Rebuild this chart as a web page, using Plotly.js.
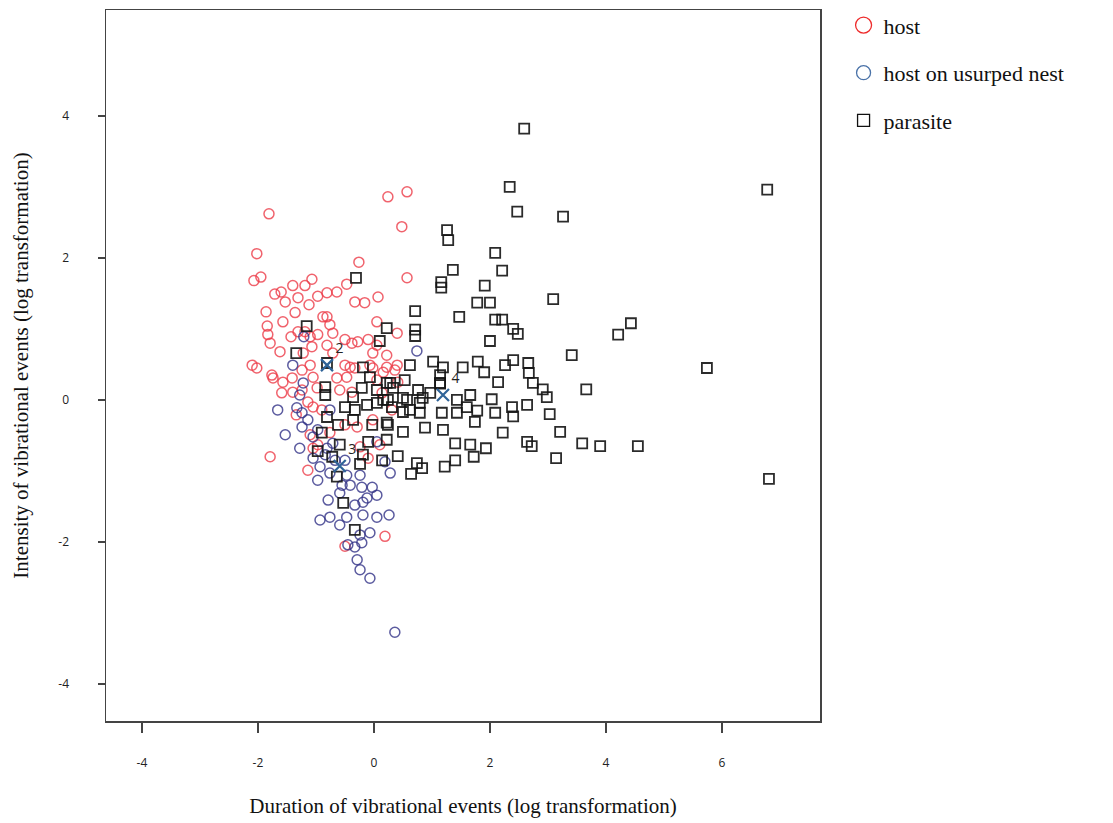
<!DOCTYPE html>
<html>
<head>
<meta charset="utf-8">
<script src="https://cdn.plot.ly/plotly-3.0.1.min.js"></script>
<style>html,body{margin:0;padding:0;background:#fff;}#chart{width:1113px;height:823px;}</style>
</head>
<body>
<div id="chart"></div>
<script>
// Host (red circles)
var hostX = [-1.81,0.24,0.57,0.48,-2.02,-2.07,-1.95,-0.26,0.57,-1.71,-1.60,-1.40,-1.19,-1.07,-1.53,-1.31,-1.12,-0.97,-0.81,-0.64,-0.47,-0.33,-0.16,0.07,-1.86,-1.57,-1.36,-1.84,-1.83,-1.79,-1.62,-1.43,-1.10,-1.31,-0.88,-0.81,-0.76,-0.97,-0.71,-0.81,-1.07,-1.19,0.05,-0.10,-0.28,-0.38,-0.50,0.40,-0.02,0.22,0.05,-0.71,-2.10,-2.02,-1.76,-1.10,-1.22,-0.50,-0.33,-0.07,0.22,0.40,-1.74,-1.57,-1.41,-1.24,-1.05,-1.59,-1.40,-1.14,-0.64,-0.47,-0.59,-0.38,-0.98,-0.41,-0.02,0.16,0.36,0.41,0.05,-1.24,0.14,-1.05,-1.10,-0.02,0.31,-0.29,-1.79,-1.14,-1.05,-0.97,-0.10,0.19,-0.50,-1.34,-0.90,-0.76,-0.50,-0.24,0.10];
var hostY = [2.62,2.86,2.93,2.44,2.06,1.68,1.73,1.94,1.72,1.49,1.52,1.61,1.61,1.70,1.38,1.44,1.34,1.46,1.51,1.52,1.63,1.38,1.37,1.45,1.24,1.10,1.23,1.04,0.92,0.80,0.68,0.89,0.89,0.96,1.17,1.17,1.06,0.92,0.94,0.77,0.75,0.96,1.10,0.85,0.82,0.80,0.85,0.94,0.66,0.63,0.77,0.66,0.49,0.45,0.35,0.49,0.66,0.49,0.45,0.49,0.46,0.49,0.31,0.25,0.31,0.42,0.32,0.10,0.11,-0.03,0.31,0.32,0.14,0.11,0.17,0.46,0.45,0.39,0.42,0.25,0.28,0.14,0.10,-0.10,-0.49,-0.28,-0.14,-0.38,-0.80,-0.99,-0.68,-0.63,-0.82,-1.92,-2.06,-0.21,-0.14,-0.46,-0.35,-0.66,-0.63];

// Host on usurped nest (navy circles)
var usurpedX = [-1.21,-1.40,0.74,-1.22,-1.28,-1.66,-1.33,-1.24,-1.14,-1.24,-1.53,-1.28,-1.05,-0.76,-1.05,-0.93,-0.76,-0.55,-0.97,-0.47,-0.24,-0.21,-0.03,0.05,-0.79,-0.59,-0.12,-0.93,-0.76,-0.59,-0.47,-0.19,0.05,0.26,-0.24,-0.07,-0.45,-0.33,-0.21,-0.29,-0.24,-0.07,0.36,0.28,0.19,0.05,-0.71,-0.81,-0.50,-0.33,-0.19,-0.97,-0.84,-0.41,-0.67];
var usurpedY = [0.89,0.49,0.69,0.24,0.07,-0.14,-0.11,-0.18,-0.28,-0.38,-0.49,-0.68,-0.52,-0.14,-0.82,-0.94,-1.03,-1.20,-1.13,-1.06,-1.06,-1.23,-1.23,-1.34,-1.41,-1.31,-1.38,-1.69,-1.65,-1.76,-1.65,-1.62,-1.65,-1.62,-1.90,-1.87,-2.04,-2.07,-2.01,-2.25,-2.39,-2.51,-3.27,-1.03,-0.87,-0.59,-0.61,-0.68,-0.85,-1.48,-1.44,-0.42,-0.77,-1.20,-0.85];

// Parasite (black squares)
var parasiteX = [2.59,2.34,2.47,3.26,6.78,1.26,1.28,2.09,1.36,2.21,-0.31,1.16,1.16,1.91,1.78,2.00,3.09,1.47,2.09,2.21,0.71,0.71,0.71,0.22,-1.16,2.40,2.48,2.00,4.21,4.43,0.10,3.41,-1.34,5.74,3.66,1.79,1.90,2.40,2.26,2.66,2.67,1.02,1.19,1.14,1.14,0.62,1.53,-0.19,-0.81,2.74,2.91,2.98,2.14,1.66,0.22,0.53,0.76,0.97,0.33,2.03,2.38,2.64,3.03,1.78,1.60,1.43,1.74,2.09,2.40,2.22,3.21,2.64,2.72,3.59,3.90,4.55,3.14,1.66,1.93,1.72,1.40,1.40,1.22,0.74,0.83,0.64,0.41,0.22,0.24,0.50,0.88,1.17,1.19,0.79,0.50,0.84,0.57,1.14,0.24,1.43,6.81,-0.84,-0.84,-0.07,-0.21,0.05,0.28,0.50,0.79,0.16,-0.36,-0.50,-0.33,-0.12,0.05,0.31,0.62,-0.81,-0.62,-0.36,-0.03,0.22,-0.90,-0.59,-0.10,-0.97,-0.72,-0.19,0.14,-0.24,-0.64,-0.53,-0.33];
var parasiteY = [3.82,3.00,2.65,2.58,2.96,2.39,2.25,2.07,1.83,1.82,1.72,1.66,1.58,1.61,1.37,1.37,1.42,1.17,1.13,1.13,1.25,0.99,0.90,1.01,1.04,1.00,0.93,0.83,0.92,1.08,0.83,0.63,0.66,0.45,0.15,0.54,0.39,0.56,0.49,0.52,0.38,0.54,0.46,0.35,0.24,0.49,0.46,0.46,0.52,0.24,0.15,0.04,0.25,0.07,0.24,0.28,0.14,0.10,0.17,0.01,-0.10,-0.07,-0.20,-0.15,-0.10,-0.18,-0.31,-0.18,-0.23,-0.46,-0.45,-0.59,-0.65,-0.61,-0.65,-0.65,-0.82,-0.63,-0.68,-0.80,-0.61,-0.85,-0.94,-0.89,-0.96,-1.04,-0.79,-0.56,-0.35,-0.45,-0.39,-0.18,-0.42,-0.18,-0.17,0.03,0.00,0.23,0.00,0.00,-1.11,0.18,0.07,0.32,0.17,0.14,0.24,0.03,-0.04,0.00,0.04,-0.10,-0.14,-0.07,-0.04,-0.10,-0.14,-0.24,-0.35,-0.28,-0.35,-0.32,-0.46,-0.63,-0.59,-0.72,-0.80,-0.77,-0.85,-0.90,-1.08,-1.45,-1.83];

// Group centroids
var centroidX = [-0.81, -0.59, 1.19];
var centroidY = [0.49, -0.93, 0.07];
var centroidLabels = ["2", "3", "4"];

var xTicks = [-4, -2, 0, 2, 4, 6];
var yTicks = [-4, -2, 0, 2, 4];

var serif = "'Liberation Serif', 'Times New Roman', serif";
var sans = "'Open Sans', 'DejaVu Sans', sans-serif";

var traces = [
  {x: hostX, y: hostY, type: 'scatter', mode: 'markers', name: 'host', showlegend: false,
   marker: {symbol: 'circle-open', size: 10, color: 'rgba(236,60,72,0.8)', line: {width: 1.5}}},
  {x: usurpedX, y: usurpedY, type: 'scatter', mode: 'markers', name: 'host on usurped nest', showlegend: false,
   marker: {symbol: 'circle-open', size: 10, color: 'rgba(50,50,135,0.8)', line: {width: 1.5}}},
  {x: parasiteX, y: parasiteY, type: 'scatter', mode: 'markers', name: 'parasite', showlegend: false,
   marker: {symbol: 'square-open', size: 10, color: 'rgba(20,20,20,0.9)', line: {width: 1.8}}},
  {x: centroidX, y: centroidY, text: centroidLabels, type: 'scatter', mode: 'markers+text', showlegend: false,
   textposition: 'top right', textfont: {family: sans, size: 14, color: '#222'},
   marker: {symbol: 'x-thin-open', size: 12, color: '#2f6398', line: {width: 2.2, color: '#2f6398'}}},
  // legend entries
  {x: [null], y: [null], type: 'scatter', mode: 'markers', name: 'host', legendgroup: 'a',
   marker: {symbol: 'circle-open', size: 16, color: '#ee2b2b', line: {width: 1.3}}},
  {x: [null], y: [null], type: 'scatter', mode: 'markers', name: 'host on usurped nest', legendgroup: 'b',
   marker: {symbol: 'circle-open', size: 14, color: '#4a72a8', line: {width: 1.3}}},
  {x: [null], y: [null], type: 'scatter', mode: 'markers', name: 'parasite', legendgroup: 'c',
   marker: {symbol: 'square-open', size: 12, color: '#111', line: {width: 1.3}}}
];

var layout = {
  width: 1113, height: 823,
  paper_bgcolor: '#fff', plot_bgcolor: '#fff',
  margin: {l: 106, r: 293, t: 10, b: 102, autoexpand: false},
  showlegend: true,
  legend: {x: 1.033, y: 1.008, xanchor: 'left', yanchor: 'top', font: {family: serif, size: 22, color: '#111'},
           tracegroupgap: 16, traceorder: 'grouped', itemwidth: 30, bgcolor: 'rgba(0,0,0,0)'},
  xaxis: {
    range: [-4.62, 7.69], tickvals: xTicks, ticktext: xTicks.map(String), automargin: false,
    showgrid: false, zeroline: false, showline: true, mirror: true, linecolor: '#444', linewidth: 1.5,
    ticks: 'outside', ticklen: 10, tickwidth: 1.5, tickcolor: '#444', ticklabelstandoff: 20,
    tickfont: {family: sans, size: 12, color: '#222'},
    title: {text: 'Duration of vibrational events (log transformation)', font: {family: serif, size: 21, color: '#111'}, standoff: 28}
  },
  yaxis: {
    range: [-4.52, 5.49], tickvals: yTicks, ticktext: yTicks.map(String), automargin: false,
    showgrid: false, zeroline: false, showline: true, mirror: true, linecolor: '#444', linewidth: 1.5,
    ticks: 'outside', ticklen: 7, tickwidth: 1.5, tickcolor: '#444', ticklabelstandoff: 26,
    tickfont: {family: sans, size: 12, color: '#222'},
    title: {text: 'Intensity of vibrational events (log transformation)', font: {family: serif, size: 21, color: '#111'}, standoff: 24}
  }
};

Plotly.newPlot('chart', traces, layout, {displayModeBar: false, staticPlot: true});
</script>
</body>
</html>
